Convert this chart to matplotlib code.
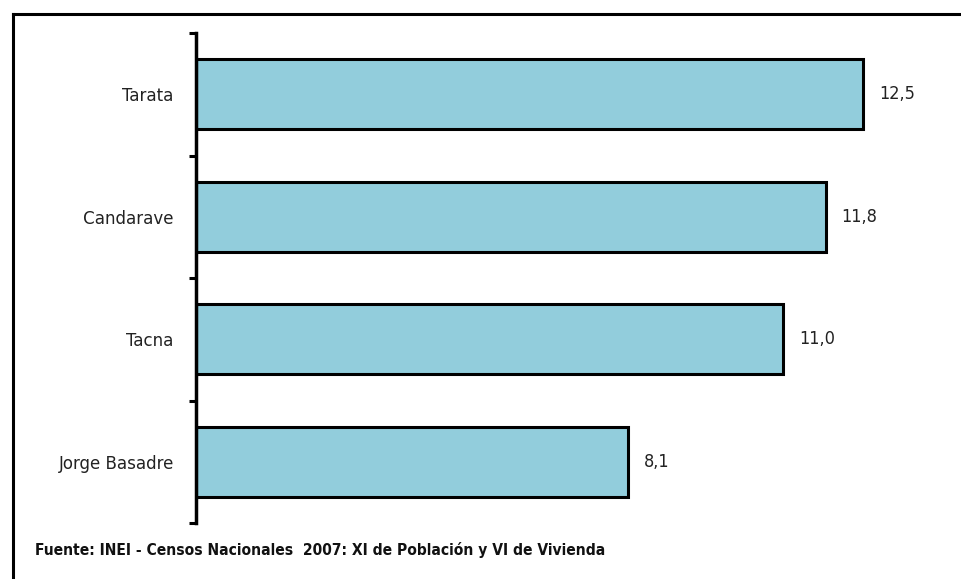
import matplotlib.pyplot as plt
from matplotlib.lines import Line2D

provincias = ['Tarata', 'Candarave', 'Tacna', 'Jorge Basadre']
valores = [12.5, 11.8, 11.0, 8.1]
etiquetas = ['12,5', '11,8', '11,0', '8,1']
fuente = 'Fuente: INEI - Censos Nacionales  2007: XI de Población y VI de Vivienda'

plt.rcParams['font.family'] = ['DejaVu Sans']
plt.rcParams['font.stretch'] = 'condensed'

W, H = 962, 579
fig = plt.figure(figsize=(W / 100, H / 100), dpi=100)

# outer frame (top and left lines)
fig.add_artist(Line2D([13 / W, 1], [1 - 14 / H, 1 - 14 / H], color='black', lw=2.2))
fig.add_artist(Line2D([13 / W, 13 / W], [0, 1 - 14 / H], color='black', lw=2.2))

ax = fig.add_axes([196 / W, 1 - 523 / H, 747 / W, 490 / H])
pos = list(range(len(provincias)))
ax.barh(pos, valores, height=0.57, color='#92CDDC', edgecolor='black', linewidth=2.2)
ax.set_ylim(len(provincias) - 0.5, -0.5)
ax.set_xlim(0, 14)

for p, v, t in zip(pos, valores, etiquetas):
    ax.text(v + 0.3, p, t, va='center', ha='left', fontsize=13, color='#222222')

ax.set_yticks(pos)
ax.set_yticklabels(provincias, fontsize=13.3, color='#222222')
ax.tick_params(axis='y', length=0, pad=16)
ax.set_yticks([-0.5, 0.5, 1.5, 2.5, 3.5], minor=True)
ax.tick_params(axis='y', which='minor', length=5, width=2.2, direction='out')
ax.set_xticks([])
for s in ['top', 'right', 'bottom']:
    ax.spines[s].set_visible(False)
ax.spines['left'].set_linewidth(2.5)

fig.text(35 / W, 1 - 550 / H, fuente, fontsize=11.2, fontweight='bold',
         va='center', ha='left', color='#111111')

fig.savefig('out.png', dpi=100)
